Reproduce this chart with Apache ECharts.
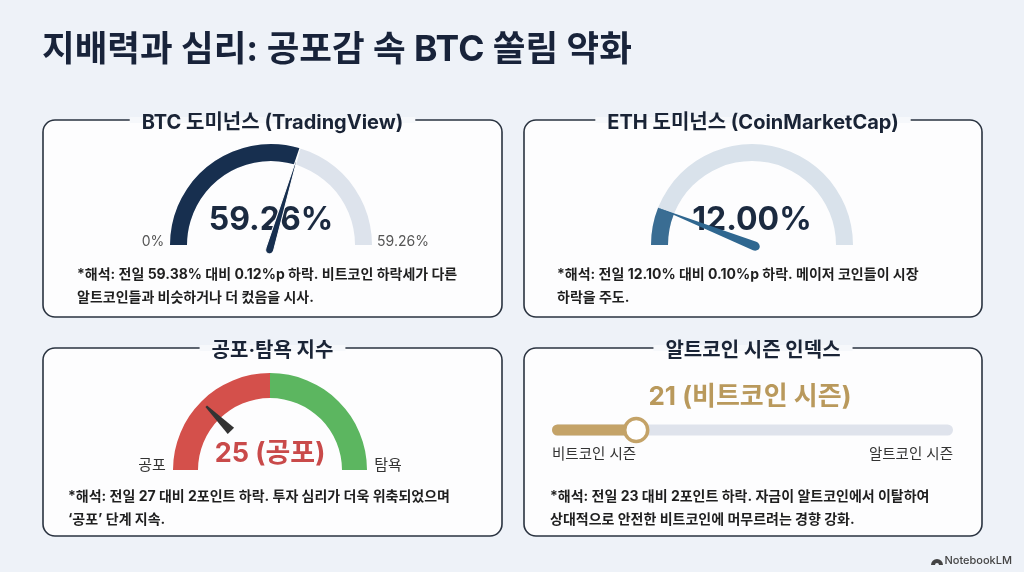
<!DOCTYPE html>
<html><head><meta charset="utf-8">
<script src="https://cdn.jsdelivr.net/npm/echarts@6/dist/echarts.min.js"></script>
<style>html,body{margin:0;padding:0;background:#eef2f8;} #c{width:1024px;height:572px;}</style>
</head><body><div id="c"></div>
<script>
const pageTitle = '지배력과 심리: 공포감 속 BTC 쏠림 약화';
const panelTitles = ['BTC 도미넌스 (TradingView)', 'ETH 도미넌스 (CoinMarketCap)', '공포·탐욕 지수', '알트코인 시즌 인덱스'];
const btcDominance = [59.26];
const btcTickLabels = ['0%', '59.26%'];
const ethDominance = [12.00];
const fearGreed = [25];
const fearGreedState = ['공포'];
const fearGreedTickLabels = ['공포', '탐욕'];
const altSeason = [21];
const altSeasonState = ['비트코인 시즌'];
const altSeasonTickLabels = ['비트코인 시즌', '알트코인 시즌'];
const notes = [
  ['*해석: 전일 59.38% 대비 0.12%p 하락. 비트코인 하락세가 다른', '알트코인들과 비슷하거나 더 컸음을 시사.'],
  ['*해석: 전일 12.10% 대비 0.10%p 하락. 메이저 코인들이 시장', '하락을 주도.'],
  ['*해석: 전일 27 대비 2포인트 하락. 투자 심리가 더욱 위축되었으며', '‘공포’ 단계 지속.'],
  ['*해석: 전일 23 대비 2포인트 하락. 자금이 알트코인에서 이탈하여', '상대적으로 안전한 비트코인에 머무르려는 경향 강화.']
];

const F = 'Inter, "Noto Sans CJK KR", sans-serif';
const BG = '#eef2f8', PANEL = '#fdfdfe', INK = '#1b2a40';
const panels = [
  {x:43, y:120, w:459, h:197, nx:77, ny:275},
  {x:524, y:120, w:458, h:197, nx:557, ny:275},
  {x:43, y:348, w:459, h:188, nx:68, ny:497},
  {x:524, y:348, w:458, h:188, nx:550, ny:497}
];

const mc = document.createElement('canvas').getContext('2d');
function tw(txt, font){ mc.font = font; return mc.measureText(txt).width; }

const graphics = [];
graphics.push({type:'text', style:{text:pageTitle, x:42, y:50, fill:'#18233a', font:'bold 35.5px ' + F, textVerticalAlign:'middle'}});
panels.forEach((p, i) => {
  graphics.push({type:'rect', z:-10, shape:{x:p.x, y:p.y, width:p.w, height:p.h, r:12}, style:{fill:PANEL, stroke:'#2a3340', lineWidth:1.6}});
  const cx = p.x + p.w/2;
  const tfont = 'bold 20px ' + F;
  const w = tw(panelTitles[i], tfont);
  graphics.push({type:'rect', z:-5, shape:{x:cx - w/2 - 12, y:p.y - 3, width:w + 24, height:6}, style:{fill:'#f6f8fb'}});
  graphics.push({type:'text', style:{text:panelTitles[i], x:cx, y:p.y + 3, fill:'#1a2436', font:tfont, textAlign:'center', textVerticalAlign:'middle'}});
  notes[i].forEach((line, k) => {
    graphics.push({type:'text', style:{text:line, x:p.nx, y:p.ny + k*23, fill:'#1f1f1f', font:'bold 14px ' + F, textVerticalAlign:'middle'}});
  });
});
// gauge tick labels
graphics.push({type:'text', style:{text:btcTickLabels[0], x:153, y:242, fill:'#555', font:'14px ' + F, textAlign:'center', textVerticalAlign:'middle'}});
graphics.push({type:'text', style:{text:btcTickLabels[1], x:403, y:242, fill:'#555', font:'14px ' + F, textAlign:'center', textVerticalAlign:'middle'}});
graphics.push({type:'text', style:{text:fearGreedTickLabels[0], x:152, y:465, fill:'#333', font:'15px ' + F, textAlign:'center', textVerticalAlign:'middle'}});
graphics.push({type:'text', style:{text:fearGreedTickLabels[1], x:388, y:465, fill:'#333', font:'15px ' + F, textAlign:'center', textVerticalAlign:'middle'}});
// alt season
graphics.push({type:'text', style:{text:altSeason[0] + ' (' + altSeasonState[0] + ')', x:750, y:397, fill:'#b9995c', font:'bold 26px ' + F, textAlign:'center', textVerticalAlign:'middle'}});
graphics.push({type:'text', style:{text:altSeasonTickLabels[0], x:552, y:455, fill:'#333', font:'14.5px ' + F, textAlign:'left', textVerticalAlign:'middle'}});
graphics.push({type:'text', style:{text:altSeasonTickLabels[1], x:953, y:455, fill:'#333', font:'14.5px ' + F, textAlign:'right', textVerticalAlign:'middle'}});
graphics.push({type:'text', style:{text:'NotebookLM', x:1012, y:561, fill:'#444', font:'500 11px ' + F, textAlign:'right', textVerticalAlign:'middle'}});
graphics.push({type:'sector', shape:{cx:937, cy:565, r:6, r0:2, startAngle:Math.PI, endAngle:2*Math.PI}, style:{fill:'#444'}});

const noAxis = {axisTick:{show:false}, splitLine:{show:false}, axisLabel:{show:false}, anchor:{show:false}, title:{show:false}};
function arcGauge(center, radius, width, trackColor, progColor, data, detail){
  return Object.assign({type:'gauge', z:2, center, radius, startAngle:180, endAngle:0, min:0, max:100,
    axisLine:{lineStyle:{width, color: trackColor}},
    progress:{show: !!progColor, width, itemStyle:{color: progColor || '#000'}},
    pointer:{show:false}, detail, data: data.map(v => ({value:v}))}, noAxis);
}
function pointerGauge(center, radius, data, pointer){
  return Object.assign({type:'gauge', z:6, center, radius, startAngle:180, endAngle:0, min:0, max:100,
    axisLine:{show:false}, progress:{show:false}, pointer, detail:{show:false}, data: data.map(v => ({value:v}))}, noAxis);
}
const needle = 'path://M5,0 L10,100 A5,5 0 0 1 0,100 Z';

const chart = echarts.init(document.getElementById('c'), null, {renderer:'canvas'});
chart.setOption({
  backgroundColor: BG,
  animation: false,
  graphic: graphics,
  grid: {left:552, top:424, width:401, height:12},
  xAxis: {type:'value', min:0, max:100, show:false},
  yAxis: {type:'category', data:['alt'], show:false},
  series: [
    arcGauge([271,245], 101, 17, [[1,'#dde3ec']], '#172f4f', btcDominance,
      {offsetCenter:[0,-25], formatter: v => v.toFixed(2) + '%', fontSize:32, fontWeight:'bold', color:INK, fontFamily:F}),
    pointerGauge([271,245], 101, btcDominance,
      {icon:needle, length:'110%', width:8, offsetCenter:[0,'9%'], itemStyle:{color:'#172f4f', borderColor:'#ffffff', borderWidth:1}}),
    arcGauge([752,245], 101, 17, [[1,'#d9e2eb']], '#3a6d93', ethDominance,
      {offsetCenter:[0,-25], formatter: v => v.toFixed(2) + '%', fontSize:32, fontWeight:'bold', color:INK, fontFamily:F}),
    pointerGauge([752,245], 101, ethDominance,
      {icon:needle, length:'109%', width:9, offsetCenter:[0,'8%'], itemStyle:{color:'#2f6790'}}),
    arcGauge([270,470], 97, 25, [[0.5,'#d4504b'],[1,'#5cb660']], null, fearGreed,
      {offsetCenter:[0,-16], formatter: v => v + ' (' + fearGreedState[0] + ')', fontSize:27, fontWeight:'bold', color:'#c94a4a', fontFamily:F}),
    pointerGauge([270,470], 97, fearGreed,
      {icon:'path://M1.5,0 L2.5,0 L4,30 L0,30 Z', length:'36%', width:9, offsetCenter:[0,'-57%'], itemStyle:{color:'#333'}}),
    {type:'bar', data: altSeason, barWidth:11, showBackground:true,
      backgroundStyle:{color:'#dfe3ec', borderRadius:6},
      itemStyle:{color:'#c4a368', borderRadius:6}, z:3},
    {type:'scatter', data: altSeason.map(v => [v, 0]), symbolSize:23, z:5,
      itemStyle:{color:'#ffffff', borderColor:'#c4a368', borderWidth:3.5, opacity:1}}
  ]
});
</script></body></html>
